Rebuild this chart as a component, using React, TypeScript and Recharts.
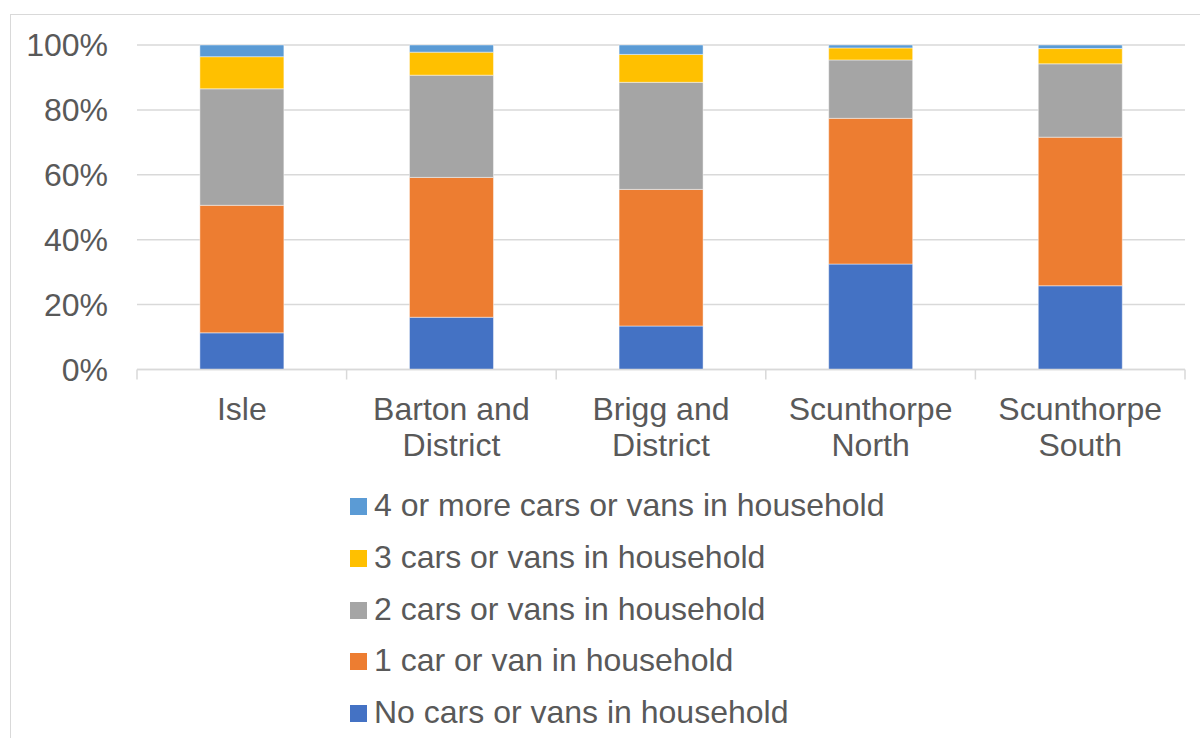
import { Bar, BarChart, CartesianGrid, Legend, XAxis, YAxis } from "recharts";

const categories = ["Isle", "Barton and District", "Brigg and District", "Scunthorpe North", "Scunthorpe South"];
const noCars = [11.3, 16.1, 13.4, 32.5, 25.8];
const oneCar = [39.3, 43.1, 42.1, 44.9, 45.8];
const twoCars = [35.9, 31.5, 33.0, 18.0, 22.6];
const threeCars = [9.9, 7.1, 8.6, 3.7, 4.7];
const fourPlus = [3.6, 2.2, 2.9, 0.9, 1.1];
const yTicks = [0, 0.2, 0.4, 0.6, 0.8, 1];

const series = [
  { key: "none", name: "No cars or vans in household", color: "#4472C4", values: noCars },
  { key: "one", name: "1 car or van in household", color: "#ED7D31", values: oneCar },
  { key: "two", name: "2 cars or vans in household", color: "#A5A5A5", values: twoCars },
  { key: "three", name: "3 cars or vans in household", color: "#FFC000", values: threeCars },
  { key: "four", name: "4 or more cars or vans in household", color: "#5B9BD5", values: fourPlus },
];

const data = categories.map((name, i) => {
  const row: Record<string, string | number> = { name };
  series.forEach((s) => (row[s.key] = s.values[i]));
  return row;
});

const W = 1200;
const H = 738;
const Y_W = 137;
const M_RIGHT = 15;
const BAND = (W - M_RIGHT - Y_W) / categories.length;
const FONT = '"Liberation Sans", Arial, sans-serif';
const TEXT = "#595959";
const LINE = "#d9d9d9";

function splitLabel(s: string) {
  const i = s.lastIndexOf(" ");
  return i < 0 ? [s] : [s.slice(0, i), s.slice(i + 1)];
}

function CategoryTick(props: any) {
  const { x, y, payload, index } = props;
  const half = BAND / 2;
  const lines = splitLabel(String(payload.value));
  return (
    <g>
      <line x1={x - half} x2={x - half} y1={y} y2={y + 10} stroke={LINE} strokeWidth={1.5} />
      {index === categories.length - 1 && (
        <line x1={x + half} x2={x + half} y1={y} y2={y + 10} stroke={LINE} strokeWidth={1.5} />
      )}
      <text x={x} y={y + 50.5} textAnchor="middle" fill={TEXT} fontSize={32} fontFamily={FONT}>
        {lines.map((l, i) => (
          <tspan key={i} x={x} dy={i === 0 ? 0 : 36}>
            {l}
          </tspan>
        ))}
      </text>
    </g>
  );
}

// Excel lists stacked series top-down, so the legend runs in reverse series order
function LegendList({ payload }: any) {
  const order = series.map((s) => s.name);
  const items = [...(payload || [])].sort((a: any, b: any) => order.indexOf(b.value) - order.indexOf(a.value));
  return (
    <div style={{ fontFamily: FONT, fontSize: 32, color: TEXT }}>
      {items.map((p: any) => (
        <div key={p.value} style={{ display: "flex", alignItems: "center", height: 51.7, whiteSpace: "nowrap" }}>
          <span style={{ width: 17, height: 17, background: p.color, marginRight: 7, marginTop: 2 }} />
          <span>{p.value}</span>
        </div>
      ))}
    </div>
  );
}

export default function App() {
  return (
    <div style={{ position: "absolute", left: 0, top: 0, width: W, height: H, background: "#fff", overflow: "hidden" }}>
      <div
        style={{
          position: "absolute",
          left: 10,
          top: 14,
          width: W,
          height: H,
          borderLeft: `1.5px solid ${LINE}`,
          borderTop: `1.5px solid ${LINE}`,
        }}
      />
      <BarChart
        width={W}
        height={H}
        data={data}
        stackOffset="expand"
        barCategoryGap="30%"
        margin={{ top: 45, right: M_RIGHT, bottom: H - 369.5 - 100, left: 0 }}
      >
        <CartesianGrid vertical={false} stroke={LINE} strokeWidth={1.5} />
        <XAxis
          dataKey="name"
          height={100}
          interval={0}
          tickLine={false}
          tickSize={0}
          tickMargin={0}
          axisLine={{ stroke: LINE, strokeWidth: 1.5 }}
          tick={<CategoryTick />}
        />
        <YAxis
          width={Y_W}
          domain={[0, 1]}
          ticks={yTicks}
          axisLine={false}
          tickLine={false}
          tickSize={6}
          tickMargin={23}
          tickFormatter={(v: number) => `${Math.round(v * 100)}%`}
          tick={{ fill: TEXT, fontSize: 32, fontFamily: FONT }}
        />
        <Legend
          layout="vertical"
          align="center"
          verticalAlign="middle"
          wrapperStyle={{ left: 350, top: 480, width: "auto" }}
          content={<LegendList />}
        />
        {series.map((s) => (
          <Bar
            key={s.key}
            dataKey={s.key}
            name={s.name}
            stackId="a"
            fill={s.color}
            stroke="#ffffff"
            strokeOpacity={0.6}
            strokeWidth={0.75}
            isAnimationActive={false}
          />
        ))}
      </BarChart>
    </div>
  );
}
